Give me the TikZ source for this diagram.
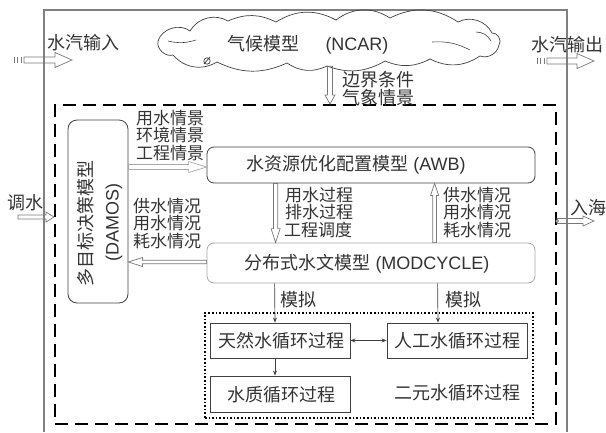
\documentclass[tikz,border=0pt]{standalone}
\usepackage{fontspec}
\setmainfont{Liberation Sans}
\newfontfamily\cjk{Noto Sans CJK SC}
\usetikzlibrary{arrows.meta,calc}

\definecolor{ink}{HTML}{333333}
\definecolor{framegray}{HTML}{808080}
\definecolor{edgegray}{HTML}{404040}
\definecolor{palegray}{HTML}{A8A8A8}
\definecolor{arrowgray}{HTML}{787878}

\tikzset{
  txt/.style={font=\fontsize{18}{18}\selectfont, text=ink, inner sep=0pt},
  cjktxt/.style={font=\cjk\fontsize{18}{18}\selectfont, text=ink, inner sep=0pt, align=center},
  stacklbl/.style={font=\cjk\fontsize{17}{17}\selectfont, text=ink, inner sep=0pt, anchor=west},
  modelbox/.style={draw=edgegray, line width=0.8pt, rounded corners=7pt, inner sep=0pt},
  procbox/.style={draw=edgegray, line width=0.9pt, inner sep=0pt, minimum width=140pt, minimum height=35pt},
  % outlined block arrow: shaft half width, head half width, head length
  hollowarrow/.style n args={3}{draw=arrowgray, line width=0.7pt, line join=miter, to path={
    let \p1=(\tikztostart), \p2=(\tikztotarget), \p3=($(\p2)!#3pt!(\p1)$) in
    ($(\p1)!#1pt!90:(\p2)$) -- ($(\p3)!#1pt!-90:(\p1)$) -- ($(\p3)!#2pt!-90:(\p1)$) -- (\p2)
    -- ($(\p3)!#2pt!90:(\p1)$) -- ($(\p3)!#1pt!90:(\p1)$) -- ($(\p1)!#1pt!-90:(\p2)$) -- cycle}},
  thinarrow/.style={draw=edgegray, line width=0.7pt, -{Stealth[length=5pt, width=4pt]}},
  stripe/.style={draw=arrowgray, line width=0.6pt}
}

\begin{document}
\begin{tikzpicture}[x=1pt, y=-1pt]
  \useasboundingbox (0,0) rectangle (606,432);

  % outer frame, open at the bottom
  \draw[framegray, line width=1.1pt] (44,432) -- (44,10) -- (567,10) -- (567,432);

  % climate model cloud
  \draw[edgegray, line width=0.7pt]
    (158,41) to[bend left=55] (190,31) to[bend left=45] (228,21) to[bend left=25] (276,22)
    to[bend left=30] (336,20) to[bend left=35] (390,18) to[bend left=30] (458,22)
    to[bend left=45] (492,33) to[bend left=70] (499,45) to[bend left=50] (480,56)
    to[bend left=30] (430,59) to[bend left=25] (385,61) to[bend left=25] (327,66)
    to[bend left=30] (287,63) to[bend left=25] (217,62) to[bend left=40] (173,55)
    to[bend left=60] cycle;
  \draw[edgegray, line width=0.6pt]
    (168,41) to[bend right=15] (196,40)
    (432,42) to[bend left=15] (470,50)
    (476,32) to[bend left=30] (491,41);
  \node[minimum width=342pt, minimum height=50pt, inner sep=0pt] (ncar) at (328,41) {};
  \node[txt] (ncartxt) at (308,45) {{\cjk 气候模型}\hspace{26pt}(NCAR)};
  \draw[edgegray, line width=0.7pt] (207,61) circle (3.2pt) (204,64) -- (210,57);

  % dashed model frame
  \node[draw=black, line width=2pt, dash pattern=on 13pt off 7pt,
        minimum width=501pt, minimum height=319pt, inner sep=0pt] (frame) at (305.5,264.5) {};

  % models
  \node[modelbox, rounded corners=9pt, minimum width=60pt, minimum height=183pt] (damos) at (98,211.5) {};
  \node[cjktxt, rotate=90] (damos1) at (86,223) {多目标决策模型};
  \node[txt, rotate=90] (damos2) at (114,222) {(DAMOS)};
  \node[modelbox, minimum width=328pt, minimum height=36pt] (awb) at (371,165) {};
  \node[txt] (awbtxt) at (356,165) {{\cjk 水资源优化配置模型} (AWB)};
  \node[modelbox, draw=palegray, minimum width=328pt, minimum height=40pt] (mod) at (371,263) {};
  \node[txt] (modtxt) at (367,264) {{\cjk 分布式水文模型} (MODCYCLE)};

  % dual water cycle processes
  \node[draw=black, line width=1.6pt, dotted, minimum width=328pt, minimum height=105pt, inner sep=0pt] (dual) at (369,365.5) {};
  \node[procbox] (natural) at (280,340.5) {};
  \node[cjktxt] at (281,341) {天然水循环过程};
  \node[procbox] (artificial) at (457,340.5) {};
  \node[cjktxt] at (457,341) {人工水循环过程};
  \node[procbox, minimum height=36pt] (quality) at (280,394) {};
  \node[cjktxt] at (281,395) {水质循环过程};
  \node[cjktxt] (dualtxt) at (457,393) {二元水循环过程};

  % exchanges between models
  \draw[hollowarrow={2.5}{5.5}{18}, draw=palegray] (damos.east |- 0,167) to (awb.west |- 0,167);
  \draw[hollowarrow={1.8}{4.5}{14}] (mod.west |- 0,262) to (damos.east |- 0,262);
  \draw[hollowarrow={2.2}{4.5}{14}] ([xshift=69pt]awb.south west) to ([xshift=69pt]mod.north west);
  \draw[hollowarrow={1.8}{4}{12}] ([xshift=228pt]mod.north west) to ([xshift=228pt]awb.south west);
  \draw[hollowarrow={2.5}{5}{9}] (ncar.south -| 330,0) to (frame.north -| 330,0);

  \node[cjktxt, anchor=west] at (342,80) {边界条件};
  \node[cjktxt, anchor=west] at (342,98) {气象情景};
  \node[stacklbl] at (136,118) {用水情景};
  \node[stacklbl] at (136,135.5) {环境情景};
  \node[stacklbl] at (136,153) {工程情景};
  \node[stacklbl] at (133,206) {供水情况};
  \node[stacklbl] at (133,223.5) {用水情况};
  \node[stacklbl] at (133,241) {耗水情况};
  \node[stacklbl] at (285,195) {用水过程};
  \node[stacklbl] at (285,212.5) {排水过程};
  \node[stacklbl] at (284,230) {工程调度};
  \node[stacklbl] at (443,195) {供水情况};
  \node[stacklbl] at (443,212.5) {用水情况};
  \node[stacklbl] at (443,230) {耗水情况};

  % simulation links
  \draw[thinarrow] ([xshift=68pt]mod.south west) -- ([xshift=-5pt]natural.north);
  \draw[thinarrow] ([xshift=231pt]mod.south west) -- ([xshift=-19pt]artificial.north);
  \node[cjktxt, anchor=west] at (280,300) {模拟};
  \node[cjktxt, anchor=west] at (445,300) {模拟};
  \draw[thinarrow, {Stealth[length=5pt, width=4pt]}-{Stealth[length=5pt, width=4pt]}] (natural.east) -- (artificial.west);
  \draw[thinarrow] ([xshift=-5pt]natural.south) -- ([xshift=-5pt]quality.north);

  % vapour and water flows across the boundary
  \coordinate (vin0) at (24,60);
  \coordinate (vin1) at (72,60);
  \foreach \x in {14,17.5,21} \draw[stripe] (\x,57) -- (\x,63);
  \draw[hollowarrow={3}{7.5}{17}] (vin0) to (vin1);
  \node[cjktxt, anchor=west] at (47,43) {水汽输入};

  \coordinate (vout0) at (547,61);
  \coordinate (vout1) at (594,61);
  \foreach \x in {537,540.5,544} \draw[stripe] (\x,58) -- (\x,64);
  \draw[hollowarrow={3}{7.5}{17}] (vout0) to (vout1);
  \node[cjktxt, anchor=west] at (531,45) {水汽输出};

  \coordinate (div0) at (18,217);
  \draw[hollowarrow={2}{5}{8}] (div0) to (frame.west |- 0,217);
  \node[cjktxt, anchor=west] at (7,203) {调水};

  \coordinate (sea1) at (594,221);
  \draw[hollowarrow={2.5}{5}{11}] (frame.east |- 0,221) to (sea1);
  \draw[edgegray, line width=0.6pt, fill=white] (frame.east |- 0,221) circle (1.5pt);
  \node[cjktxt, anchor=west] at (570,208) {入海};
\end{tikzpicture}
\end{document}
